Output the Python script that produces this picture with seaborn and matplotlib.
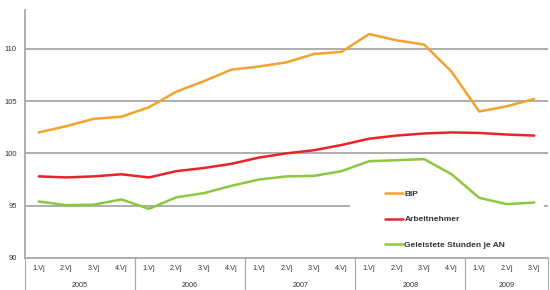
import matplotlib
matplotlib.use("Agg")
import matplotlib.pyplot as plt
from matplotlib.patches import Rectangle
from matplotlib.transforms import blended_transform_factory
import numpy as np
import pandas as pd
import seaborn as sns

# quarters 2005 Q1 .. 2009 Q3
quarters = ["1.Vj", "2.Vj", "3.Vj", "4.Vj"] * 4 + ["1.Vj", "2.Vj", "3.Vj"]
years = ["2005", "2006", "2007", "2008", "2009"]
year_sizes = [4, 4, 4, 4, 3]

bip = [102.0, 102.6, 103.3, 103.5, 104.4, 105.9, 106.9, 108.0, 108.3, 108.7,
       109.5, 109.7, 111.4, 110.8, 110.4, 107.8, 104.0, 104.5, 105.2]
arbeitnehmer = [97.8, 97.7, 97.8, 98.0, 97.7, 98.3, 98.6, 99.0, 99.6, 100.0,
                100.3, 100.8, 101.4, 101.7, 101.9, 102.0, 101.95, 101.8, 101.7]
stunden = [95.4, 95.05, 95.1, 95.6, 94.7, 95.8, 96.2, 96.9, 97.5, 97.8,
           97.85, 98.3, 99.25, 99.35, 99.45, 98.0, 95.75, 95.15, 95.3]

series_names = ["BIP", "Arbeitnehmer", "Geleistete Stunden je AN"]
colors = ["#F2A32E", "#E8232B", "#8DC63F"]

n = len(quarters)
df = pd.DataFrame({
    "x": list(range(n)) * 3,
    "value": bip + arbeitnehmer + stunden,
    "series": [series_names[0]] * n + [series_names[1]] * n + [series_names[2]] * n,
})

sns.set_style("white")
plt.rcParams["font.family"] = ["Liberation Sans", "DejaVu Sans"]

fig = plt.figure(figsize=(5.5, 2.9), dpi=100)
ax = fig.add_axes([25 / 550, 32 / 290, 523 / 550, 248 / 290])
ax.set_axisbelow(True)

grid_col = "#A8A8A8"
for v in [95, 100, 105, 110]:
    ax.axhline(v, color=grid_col, lw=1.3, zorder=0.5)

# white block behind the legend that interrupts the 95 line
ax.add_patch(Rectangle((0.621, 0.035), 0.371, 0.26, transform=ax.transAxes,
                       facecolor="white", edgecolor="none", zorder=1))

sns.lineplot(data=df, x="x", y="value", hue="series", palette=colors,
             hue_order=series_names, linewidth=1.8, ax=ax, zorder=2)

ax.set_xlim(-0.5, n - 0.5)
ax.set_ylim(90, 113.7)
ax.set_yticks([90, 95, 100, 105, 110])
ax.tick_params(axis="y", length=3, width=1, color=grid_col, pad=3,
               labelsize=5.5, labelcolor="#333333")
ax.set_xlabel("")
ax.set_ylabel("")

for side in ["top", "right"]:
    ax.spines[side].set_visible(False)
for side in ["left", "bottom"]:
    ax.spines[side].set_color(grid_col)
    ax.spines[side].set_linewidth(1.3)

# quarter separators (major ticks) and labels (minor ticks)
ax.set_xticks(np.arange(-0.5, n, 1.0))
ax.set_xticklabels([])
ax.tick_params(axis="x", which="major", length=11, width=0.8, color=grid_col)
ax.set_xticks(np.arange(n), minor=True)
ax.set_xticklabels(quarters, minor=True)
ax.tick_params(axis="x", which="minor", length=0, pad=5, labelsize=5.2,
               labelcolor="#333333")

# year separators and labels
trans = blended_transform_factory(ax.transData, ax.transAxes)
start = -0.5
for yr, size in zip(years, year_sizes):
    for xb in [start, start + size]:
        ax.plot([xb, xb], [0, -0.13], transform=trans, color=grid_col,
                lw=0.8, clip_on=False)
    ax.text(start + size / 2, -0.11, yr, transform=trans, ha="center",
            va="center", fontsize=5.2, color="#333333")
    start += size

leg = ax.legend(loc="upper left", bbox_to_anchor=(0.688, 0.273),
                frameon=False, fontsize=6, handlelength=2.2,
                handletextpad=0.15, labelspacing=2.1, borderpad=0,
                borderaxespad=0)
for t in leg.get_texts():
    t.set_fontweight("bold")
    t.set_color("#333333")
for h in leg.get_lines():
    h.set_linewidth(1.8)

fig.savefig("out.png", dpi=100)
